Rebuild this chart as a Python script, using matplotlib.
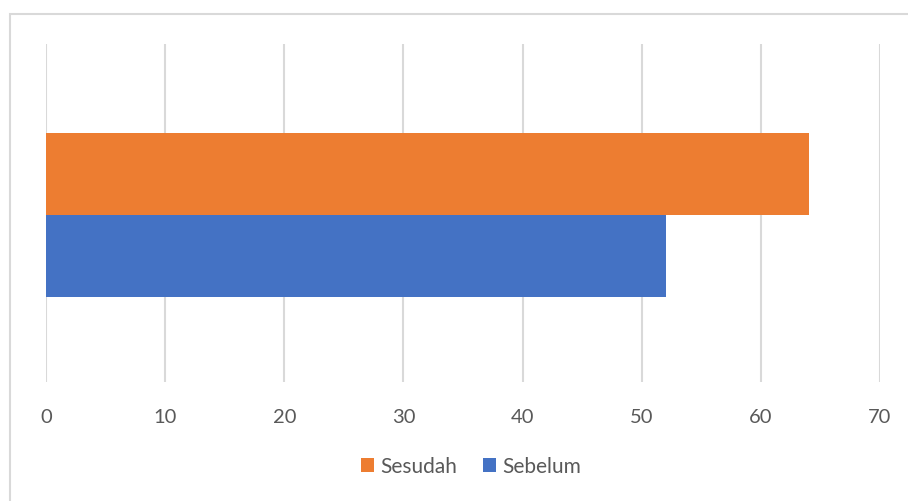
import matplotlib.pyplot as plt
from matplotlib.patches import Rectangle

series = ["Sesudah", "Sebelum"]
values = [64, 52]
colors = ["#ED7D31", "#4472C4"]
ticks = [0, 10, 20, 30, 40, 50, 60, 70]

plt.rcParams['font.family'] = ['Lato', 'DejaVu Sans']

fig = plt.figure(figsize=(9.08, 5.02), dpi=100)
ax = fig.add_axes([46/908, 1-383/502, (880-46)/908, (383-45)/502])

h = 0.243
pos = [h/2 - 0.006, -h/2 - 0.006]
for name, v, c, p in zip(series, values, colors, pos):
    ax.barh(p, v, height=h, color=c, label=name, zorder=3)

ax.set_xlim(0, 70)
ax.set_ylim(-0.5, 0.5)
ax.set_xticks(ticks)
ax.set_yticks([])
ax.grid(axis='x', color='#d9d9d9', linewidth=1.5, zorder=0)
for s in ax.spines.values():
    s.set_visible(False)
ax.tick_params(axis='x', length=0, pad=19, labelsize=14.5, labelcolor='#595959')
for lbl in ax.get_xticklabels():
    lbl.set_clip_on(False)

leg = fig.legend(loc='center', bbox_to_anchor=(471/908, 1-467/502), ncol=2,
                 frameon=False, fontsize=15, handlelength=0.65, handleheight=0.65,
                 handletextpad=0.3, columnspacing=1.2)
for t in leg.get_texts():
    t.set_color('#595959')

fig.patches.append(Rectangle((10/908, -0.05), 1.1, 1-15/502+0.05, transform=fig.transFigure,
                             fill=False, edgecolor='#d9d9d9', linewidth=1.5))

fig.savefig("out.png", dpi=100)
